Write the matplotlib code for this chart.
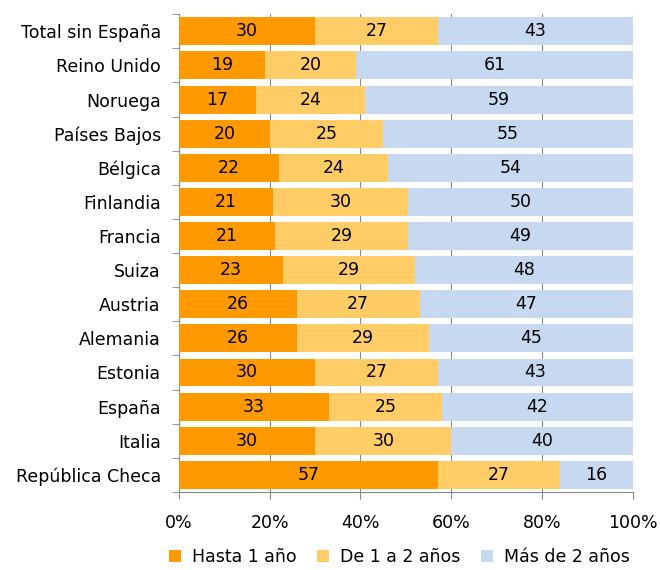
import matplotlib
matplotlib.use("Agg")
import matplotlib.pyplot as plt
import numpy as np

countries = ["Total sin España", "Reino Unido", "Noruega", "Países Bajos", "Bélgica",
             "Finlandia", "Francia", "Suiza", "Austria", "Alemania", "Estonia",
             "España", "Italia", "República Checa"]
hasta1 = [30, 19, 17, 20, 22, 21, 21, 23, 26, 26, 30, 33, 30, 57]
de1a2 = [27, 20, 24, 25, 24, 30, 29, 29, 27, 29, 27, 25, 30, 27]
mas2 = [43, 61, 59, 55, 54, 50, 49, 48, 47, 45, 43, 42, 40, 16]
series_names = ["Hasta 1 año", "De 1 a 2 años", "Más de 2 años"]
colors = ["#FF9900", "#FFCC66", "#C6D9F0"]

FS = 12.5
plt.rcParams['font.family'] = ['DejaVu Sans']
fig = plt.figure(figsize=(6.6, 5.7), dpi=100)
ax = fig.add_axes([0.271, 0.137, 0.688, 0.838])

data = np.array([hasta1, de1a2, mas2], dtype=float)
totals = data.sum(axis=0)
frac = data / totals
y = np.arange(len(countries))
left = np.zeros(len(countries))
for i in range(3):
    bars = ax.barh(y, frac[i], left=left, height=0.82, color=colors[i],
                   label=series_names[i], zorder=3, linewidth=0)
    for j, b in enumerate(bars):
        ax.text(left[j] + frac[i][j] / 2, y[j], f"{int(data[i][j])}",
                ha="center", va="center", fontsize=FS, color="black", zorder=4)
    left += frac[i]

ax.set_ylim(len(countries) - 0.5, -0.5)
ax.set_xlim(0, 1)
ax.set_yticks(y)
ax.set_yticklabels(countries, fontsize=FS)
ax.set_yticks(np.arange(-0.5, len(countries), 1), minor=True)
ax.tick_params(axis="y", which="major", length=0, pad=13)
ax.tick_params(axis="y", which="minor", length=5, color="#888888", direction="out")
ax.set_xticks(np.linspace(0, 1, 6))
ax.set_xticklabels([f"{v}%" for v in range(0, 101, 20)], fontsize=FS)
ax.tick_params(axis="x", length=5, color="#888888", direction="out", pad=11)
ax.xaxis.grid(True, color="#888888", linewidth=0.8, zorder=0)
for s in ["top", "right"]:
    ax.spines[s].set_visible(False)
for s in ["left", "bottom"]:
    ax.spines[s].set_color("#888888")

handles, labels = ax.get_legend_handles_labels()
fig.legend(handles, labels, loc="center", bbox_to_anchor=(0.605, 0.022), ncol=3,
           frameon=False, fontsize=FS, handlelength=0.7, handleheight=0.7,
           handletextpad=0.6, columnspacing=1.2)

fig.savefig("out.png", dpi=100)
